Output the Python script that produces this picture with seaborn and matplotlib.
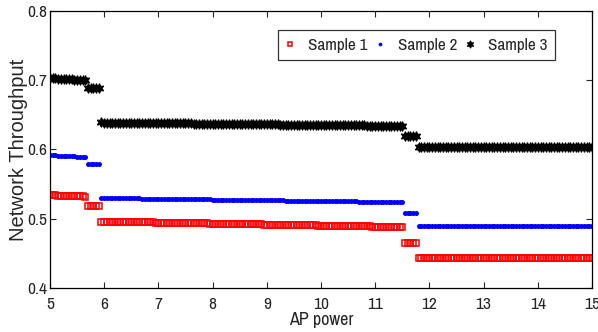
import numpy as np
import pandas as pd
import seaborn as sns
import matplotlib.pyplot as plt
from matplotlib import font_manager as fm

# --- data ---
# x is sampled every 0.05 from 5 to 15; each series is a staircase of 5 segments
SEG_X = [(5.0, 5.65), (5.7, 5.9), (5.95, 11.5), (11.55, 11.75), (11.8, 15.0)]
# (value at segment start, value at segment end)
SAMPLE1 = [(0.534, 0.532), (0.519, 0.519), (0.496, 0.488), (0.465, 0.465), (0.444, 0.443)]
SAMPLE2 = [(0.592, 0.589), (0.579, 0.579), (0.530, 0.524), (0.509, 0.509), (0.490, 0.489)]
SAMPLE3 = [(0.703, 0.700), (0.689, 0.689), (0.639, 0.634), (0.620, 0.620), (0.604, 0.604)]
STEP = 0.05


def expand(levels):
    xs, ys = [], []
    for (x0, x1), (y0, y1) in zip(SEG_X, levels):
        n = int(round((x1 - x0) / STEP)) + 1
        xs.append(np.linspace(x0, x1, n))
        ys.append(np.linspace(y0, y1, n))
    return np.concatenate(xs), np.concatenate(ys)


# the original uses a tall, narrow Helvetica; look for a condensed sans if there is one
def find_narrow():
    pref = ['Liberation', 'Noto Sans', 'DejaVu', 'Roboto', 'Open Sans']
    hits = []
    for f in fm.fontManager.ttflist:
        tag = f.name + ' ' + f.fname
        if not ('Narrow' in tag or 'Condensed' in tag or f.stretch == 'condensed'):
            continue
        if f.style != 'normal' or f.weight not in (400, 'normal', 'regular'):
            continue
        if any(w in tag for w in ('Mono', 'Serif', 'Extra', 'Ultra', 'Bold', 'Light', 'Italic')):
            continue
        if 'Narrow' in tag:
            width = 0
        elif 'Semi' in tag:
            width = 2
        else:
            width = 1
        rank = next((i for i, p in enumerate(pref) if f.name.startswith(p)), 99)
        hits.append((width, rank, f.fname))
    return sorted(hits)[0][2] if hits else None


NARROW = find_narrow()


def fp(size):
    if NARROW:
        return fm.FontProperties(fname=NARROW, size=size)
    return fm.FontProperties(family=['Liberation Sans', 'DejaVu Sans'], size=size * 0.88)


sns.set_style("ticks")
plt.rcParams['font.family'] = ['Liberation Sans', 'DejaVu Sans']

fig = plt.figure(figsize=(5.98, 3.32), dpi=100)
ax = fig.add_axes([0.0836, 0.1325, 0.9064, 0.8345])

styles = [
    ("Sample 1", SAMPLE1, dict(color='red', marker='s', markersize=4, markerfacecolor='none',
                                markeredgecolor='red', markeredgewidth=1.1)),
    ("Sample 2", SAMPLE2, dict(color='blue', marker='o', markersize=3.6,
                                markeredgecolor='blue', markeredgewidth=0)),
    ("Sample 3", SAMPLE3, dict(color='black', marker=(6, 1, 0), markersize=7,
                                markeredgecolor='black', markeredgewidth=0.8)),
]
for name, levels, kw in styles:
    x, y = expand(levels)
    df = pd.DataFrame({'x': x, 'y': y})
    sns.lineplot(data=df, x='x', y='y', ax=ax, linestyle='', label=name,
                 estimator=None, sort=False, **kw)

ax.set_xlim(5, 15)
ax.set_ylim(0.4, 0.8)
ax.set_xticks(range(5, 16))
ax.set_yticks([0.4, 0.5, 0.6, 0.7, 0.8])
ax.set_yticklabels(['0.4', '0.5', '0.6', '0.7', '0.8'])
ax.tick_params(direction='in', top=True, right=True, length=4, width=0.8)
ax.tick_params(axis='x', pad=6.5)
ax.tick_params(axis='y', pad=2)
for lab in ax.get_xticklabels() + ax.get_yticklabels():
    lab.set_fontproperties(fp(12.5))
for s in ax.spines.values():
    s.set_linewidth(0.9)
    s.set_color('black')
ax.set_xlabel('AP power', fontproperties=fp(13), labelpad=0)
ax.set_ylabel('Network Throughput', fontsize=14.5, labelpad=-0.5)

leg = ax.legend(loc='upper right', bbox_to_anchor=(0.932, 0.931), borderaxespad=0,
                ncol=3, numpoints=1, prop=fp(12.3), frameon=True, fancybox=False,
                handlelength=0.5, handletextpad=0.8, columnspacing=0.5,
                borderpad=0.45, markerscale=0.75)
leg.get_frame().set_edgecolor('black')
leg.get_frame().set_linewidth(0.9)

fig.savefig('out.png', dpi=100)
